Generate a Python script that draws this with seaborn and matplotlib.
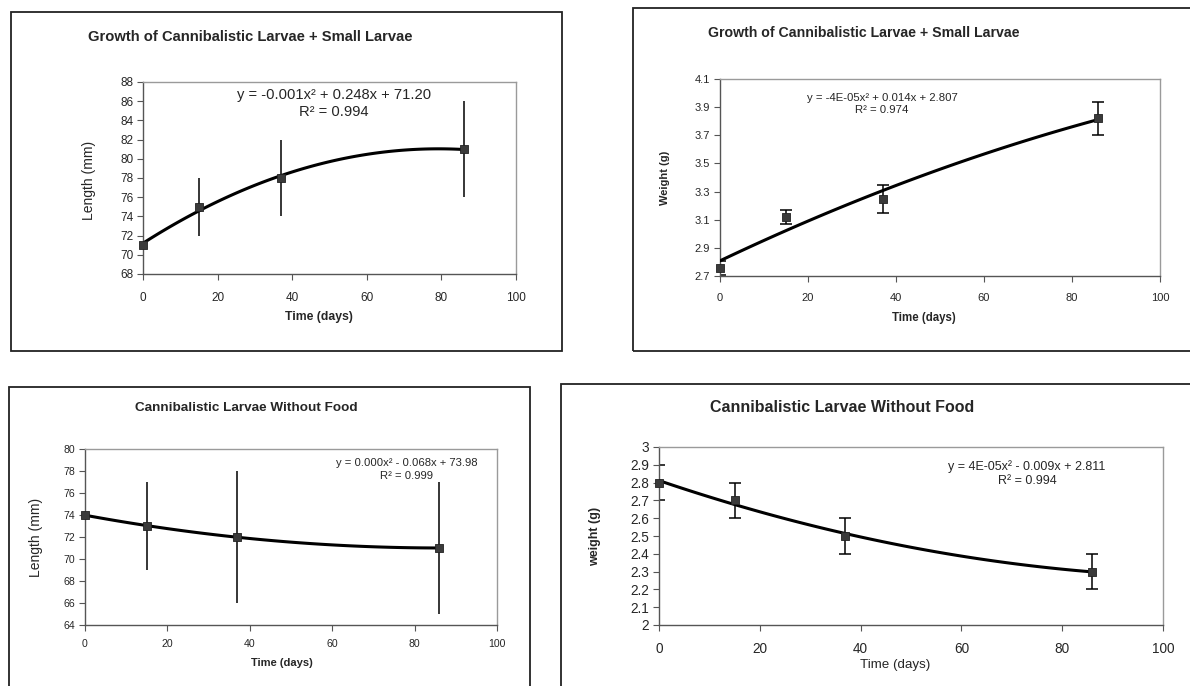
"""
Four Excel-style growth panels for cannibalistic larvae (length / weight vs time),
each with a 2nd-order polynomial trend line and error bars.
"""
import numpy as np
import pandas as pd
import matplotlib
matplotlib.use("Agg")
import matplotlib.pyplot as plt
from matplotlib.patches import Rectangle
from matplotlib.ticker import FuncFormatter
import seaborn as sns

W, H = 1190, 686

days = [0, 15, 37, 86]

# top row: cannibalistic larvae + small larvae
len_fed = [71, 75, 78, 81]
len_fed_err = [3, 3, 4, 5]
wt_fed = [2.76, 3.12, 3.25, 3.82]
wt_fed_err = [0.05, 0.05, 0.10, 0.12]

# bottom row: without food
len_starved = [74, 73, 72, 71]
len_starved_err = [4, 4, 6, 6]
wt_starved = [2.8, 2.7, 2.5, 2.3]
wt_starved_err = [0.1, 0.1, 0.1, 0.1]

TITLE_FED = "Growth of Cannibalistic Larvae + Small Larvae"
TITLE_STARVED = "Cannibalistic Larvae Without Food"

sns.set_style("white")
plt.rcParams["font.family"] = ["Liberation Sans", "DejaVu Sans"]


def px(x, y):
    return x / W, 1 - y / H


def axes_at(fig, left, top, right, bottom):
    return fig.add_axes([left / W, 1 - bottom / H, (right - left) / W, (bottom - top) / H])


def panel(ax, y, err, ylim, yticks, fmt, tick_size, capsize, msize, xpad=9):
    df = pd.DataFrame({"days": days, "value": y, "err": err})
    ax.errorbar(df["days"], df["value"], yerr=df["err"], fmt="none",
                ecolor="black", elinewidth=1.1, capsize=capsize, capthick=1.1,
                zorder=2, clip_on=True)
    sns.regplot(data=df, x="days", y="value", order=2, ci=None, scatter=False,
                truncate=True, ax=ax,
                line_kws={"color": "black", "lw": 2.2, "zorder": 3})
    sns.scatterplot(data=df, x="days", y="value", marker="s", s=msize,
                    color="#3a3a3a", edgecolor="#222222", linewidth=0.6,
                    ax=ax, zorder=4, clip_on=False)
    ax.set_xlim(0, 100)
    ax.set_ylim(*ylim)
    ax.set_xticks(range(0, 101, 20))
    ax.set_yticks(yticks)
    ax.yaxis.set_major_formatter(FuncFormatter(fmt))
    ax.set_xlabel("")
    ax.set_ylabel("")
    for side in ["top", "right"]:
        ax.spines[side].set_color("#9a9a9a")
        ax.spines[side].set_linewidth(1.0)
    for side in ["left", "bottom"]:
        ax.spines[side].set_color("#555555")
        ax.spines[side].set_linewidth(1.0)
    ax.tick_params(axis="both", direction="out", length=4, width=0.8,
                   color="#555555", labelsize=tick_size, pad=3,
                   bottom=True, left=True)
    ax.tick_params(axis="x", pad=xpad)


def box(fig, left, top, right, bottom):
    fig.patches.append(Rectangle(px(left, bottom), (right - left) / W,
                                 (bottom - top) / H, transform=fig.transFigure,
                                 fill=False, edgecolor="#222222", lw=1.3))


fig = plt.figure(figsize=(W / 100, H / 100), dpi=100)
fig.patch.set_facecolor("white")

box(fig, 10.5, 12, 562, 350.5)
box(fig, 633, 8.5, 1200, 351)
box(fig, 8.5, 386.5, 529.5, 700)
box(fig, 560.5, 383.5, 1200, 700)

# panel 1: length, fed
ax1 = axes_at(fig, 143, 82, 516, 274)
panel(ax1, len_fed, len_fed_err, (68, 88), range(68, 89, 2),
      lambda v, p: f"{v:.0f}", 8.5, 0, 30)
fig.text(*px(250, 37), TITLE_FED, ha="center", va="center", fontsize=10.6, fontweight="bold")
fig.text(*px(319, 317), "Time (days)", ha="center", va="center", fontsize=8.8, fontweight="bold")
fig.text(*px(89, 180), "Length (mm)", ha="center", va="center", fontsize=10, rotation=90)
fig.text(*px(334, 95), "y = -0.001x² + 0.248x + 71.20", ha="center", va="center", fontsize=10.6)
fig.text(*px(334, 112), "R² = 0.994", ha="center", va="center", fontsize=10.6)

# panel 2: weight, fed
ax2 = axes_at(fig, 720, 79, 1160, 276)
panel(ax2, wt_fed, wt_fed_err, (2.7, 4.1), np.round(np.arange(2.7, 4.11, 0.2), 1),
      lambda v, p: f"{v:.1f}", 8, 4, 28, xpad=8)
fig.text(*px(864, 33), TITLE_FED, ha="center", va="center", fontsize=10.2, fontweight="bold")
fig.text(*px(924, 318), "Time (days)", ha="center", va="center", fontsize=8.3, fontweight="bold")
fig.text(*px(665, 178), "Weight (g)", ha="center", va="center", fontsize=8,
         fontweight="bold", rotation=90)
fig.text(*px(882, 98), "y = -4E-05x² + 0.014x + 2.807", ha="center", va="center", fontsize=8.2)
fig.text(*px(882, 110), "R² = 0.974", ha="center", va="center", fontsize=8.2)

# panel 3: length, without food
ax3 = axes_at(fig, 85, 449, 497, 625)
panel(ax3, len_starved, len_starved_err, (64, 80), range(64, 81, 2),
      lambda v, p: f"{v:.0f}", 7.6, 0, 26, xpad=6)
fig.text(*px(246, 408), TITLE_STARVED, ha="center", va="center", fontsize=9.7, fontweight="bold")
fig.text(*px(282, 663), "Time (days)", ha="center", va="center", fontsize=8, fontweight="bold")
fig.text(*px(36, 537), "Length (mm)", ha="center", va="center", fontsize=10, rotation=90)
fig.text(*px(407, 463), "y = 0.000x² - 0.068x + 73.98", ha="center", va="center", fontsize=8.1)
fig.text(*px(407, 476), "R² = 0.999", ha="center", va="center", fontsize=8.1)

# panel 4: weight, without food
ax4 = axes_at(fig, 659, 447, 1163, 625)
panel(ax4, wt_starved, wt_starved_err, (2.0, 3.0), np.round(np.arange(2.0, 3.01, 0.1), 1),
      lambda v, p: f"{v:g}", 9.8, 4, 32, xpad=8)
fig.text(*px(842, 407), TITLE_STARVED, ha="center", va="center", fontsize=11.5, fontweight="bold")
fig.text(*px(895, 665), "Time (days)", ha="center", va="center", fontsize=9.6)
fig.text(*px(595, 536), "weight (g)", ha="center", va="center", fontsize=9,
         fontweight="bold", rotation=90)
fig.text(*px(1027, 467), "y = 4E-05x² - 0.009x + 2.811", ha="center", va="center", fontsize=9)
fig.text(*px(1027, 481), "R² = 0.994", ha="center", va="center", fontsize=9)

fig.savefig("out.png", dpi=100, facecolor="white")
plt.close(fig)
